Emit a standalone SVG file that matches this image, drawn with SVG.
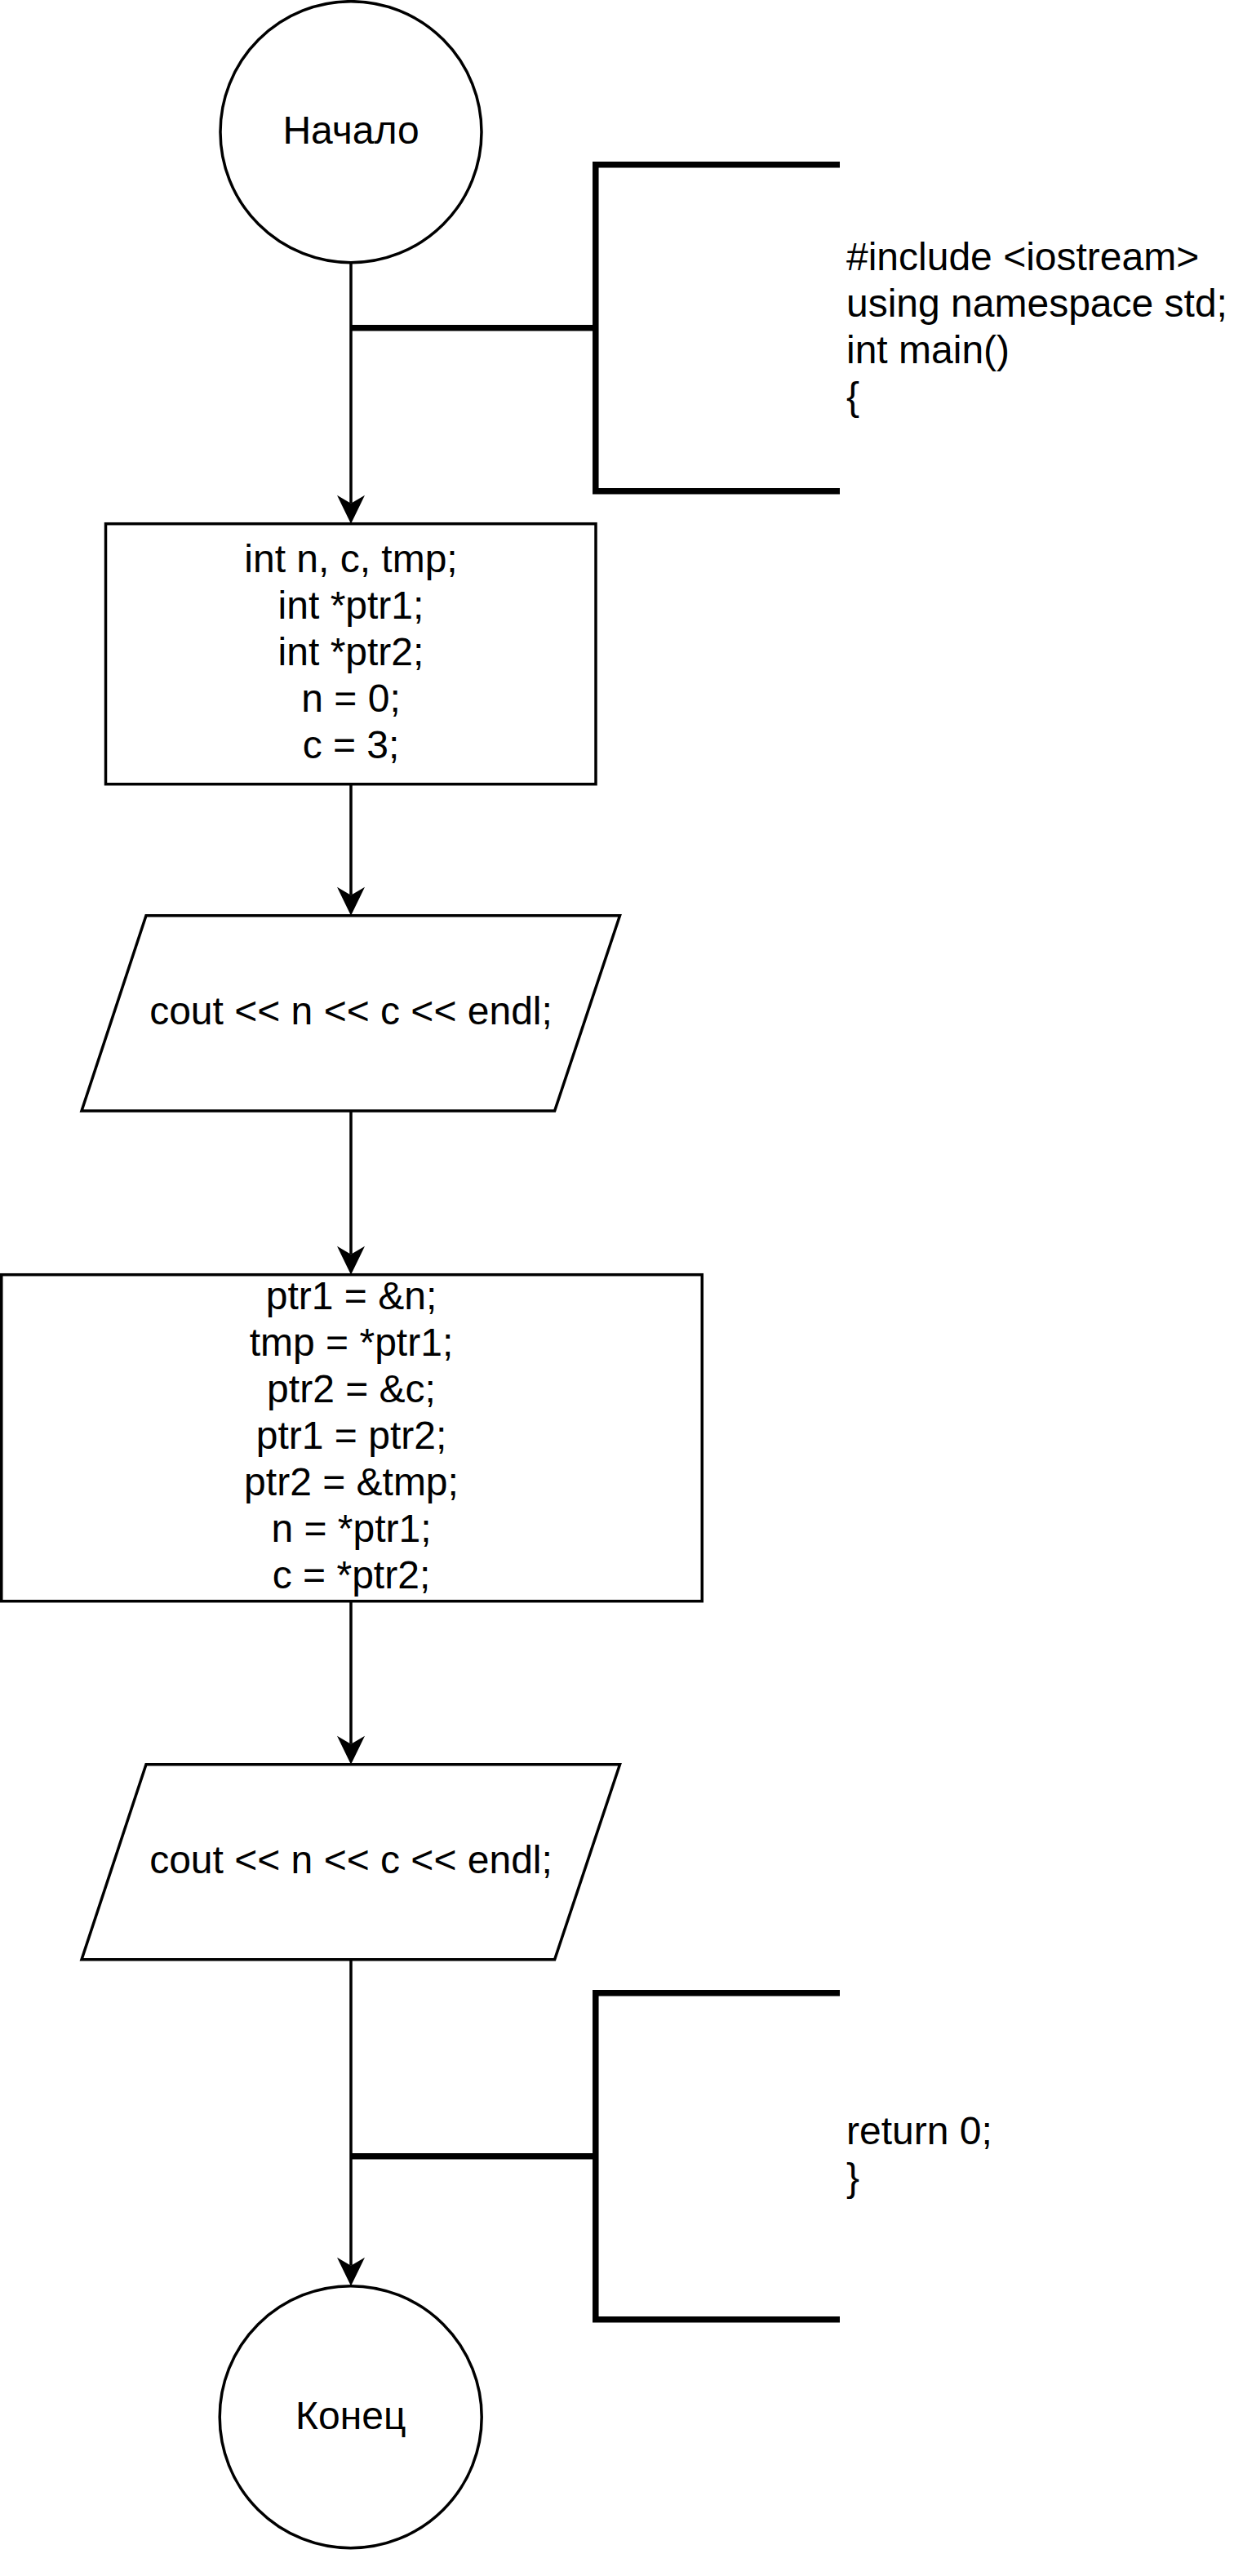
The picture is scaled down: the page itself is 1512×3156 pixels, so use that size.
<svg xmlns="http://www.w3.org/2000/svg" width="1512" height="3156" viewBox="0 0 1512 3156">
<style>
.shape{fill:#ffffff;stroke:#000000;stroke-width:3.5}
.conn{fill:none;stroke:#000000;stroke-width:3.5}
.thick{fill:none;stroke:#000000;stroke-width:7.5}
text{font-family:"Liberation Sans",Arial,"Noto Sans",sans-serif;font-size:48px;fill:#000000}
.c{text-anchor:middle}
.l{text-anchor:start}
</style>
<defs>
<marker id="arr" markerUnits="userSpaceOnUse" markerWidth="36" markerHeight="36" refX="10" refY="17" orient="auto" overflow="visible">
<path d="M35,17 L0,0 L10,17 L0,34 Z" fill="#000000"/>
</marker>
</defs>
<rect x="0" y="0" width="1512" height="3156" fill="#ffffff"/>
<g id="connectors">
<path class="conn" d="M430,321.7 V616.7" marker-end="url(#arr)"/>
<path class="conn" d="M430,960.7 V1096.7" marker-end="url(#arr)"/>
<path class="conn" d="M430,1361 V1536.7" marker-end="url(#arr)"/>
<path class="conn" d="M430,1961.7 V2136.7" marker-end="url(#arr)"/>
<path class="conn" d="M430,2400.7 V2775.7" marker-end="url(#arr)"/>
<path class="thick" d="M430,401.7 H729.8"/>
<path class="thick" d="M430,2641.7 H729.8"/>
</g>
<g id="start">
<circle class="shape" cx="430" cy="161.7" r="160"/>
<text class="c" x="430" y="176">Начало</text>
</g>
<g id="note-top">
<path class="thick" d="M1029,201.7 H729.8 V601.7 H1029"/>
<text class="l" x="1037" y="331">#include &lt;iostream&gt;</text>
<text class="l" x="1037" y="388">using namespace std;</text>
<text class="l" x="1037" y="445">int main()</text>
<text class="l" x="1037" y="502">{</text>
</g>
<g id="decl">
<rect class="shape" x="129.5" y="641.7" width="600.5" height="319"/>
<text class="c" x="430" y="701">int n, c, tmp;</text>
<text class="c" x="430" y="758">int *ptr1;</text>
<text class="c" x="430" y="815">int *ptr2;</text>
<text class="c" x="430" y="872">n = 0;</text>
<text class="c" x="430" y="929">c = 3;</text>
</g>
<g id="out1">
<polygon class="shape" points="179,1121.7 759.5,1121.7 679.6,1361 100,1361"/>
<text class="c" x="430" y="1255">cout &lt;&lt; n &lt;&lt; c &lt;&lt; endl;</text>
</g>
<g id="swap">
<rect class="shape" x="1.75" y="1561.7" width="858.5" height="400"/>
<text class="c" x="430.5" y="1604">ptr1 = &amp;n;</text>
<text class="c" x="430.5" y="1661">tmp = *ptr1;</text>
<text class="c" x="430.5" y="1718">ptr2 = &amp;c;</text>
<text class="c" x="430.5" y="1775">ptr1 = ptr2;</text>
<text class="c" x="430.5" y="1832">ptr2 = &amp;tmp;</text>
<text class="c" x="430.5" y="1889">n = *ptr1;</text>
<text class="c" x="430.5" y="1946">c = *ptr2;</text>
</g>
<g id="out2">
<polygon class="shape" points="179,2161.7 759.5,2161.7 679.6,2400.7 100,2400.7"/>
<text class="c" x="430" y="2295">cout &lt;&lt; n &lt;&lt; c &lt;&lt; endl;</text>
</g>
<g id="note-bottom">
<path class="thick" d="M1029,2441.7 H729.8 V2841.7 H1029"/>
<text class="l" x="1037" y="2627">return 0;</text>
<text class="l" x="1037" y="2684">}</text>
</g>
<g id="end">
<circle class="shape" cx="429.7" cy="2961.2" r="160.5"/>
<text class="c" x="429.7" y="2976">Конец</text>
</g>
</svg>
